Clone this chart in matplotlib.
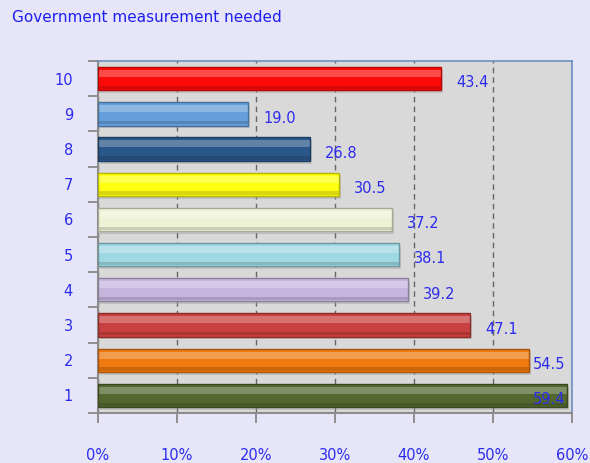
import numpy as np
import matplotlib.pyplot as plt
import matplotlib.colors as mcolors
from matplotlib.ticker import FixedLocator, PercentFormatter

categories = ['1', '2', '3', '4', '5', '6', '7', '8', '9', '10']
values = [59.4, 54.5, 47.1, 39.2, 38.1, 37.2, 30.5, 26.8, 19.0, 43.4]
bar_colours = ['#536830', '#EE7A10', '#C8403F', '#C6B6DE', '#9ED8E2',
               '#EEF3D6', '#FFFF10', '#2A578A', '#649FDC', '#FF0A0A']

TEXT_BLUE = '#2B2BF0'

fig = plt.figure(figsize=(5.9, 4.63), dpi=100, facecolor='#E6E6F8')
ax = fig.add_axes([0.166, 0.108, 0.8035, 0.760])
ax.set_facecolor('#D9D9D9')

y = np.arange(len(categories))
h = 0.66

# soft drop shadow under each bar
ax.barh(y - 0.08, values, height=h, left=0.25, color='#9A9A9A', alpha=0.4,
        linewidth=0, zorder=2)

for yi, v, c in zip(y, values, bar_colours):
    base = np.array(mcolors.to_rgb(c))
    dark = base * 0.7
    light = base + (1 - base) * 0.35
    ax.barh(yi, v, height=h, color=c, zorder=3, linewidth=0)
    # bevel: lighter upper band, darker lower band
    ax.barh(yi + h * 0.22, v, height=h * 0.3, color=light, alpha=0.75,
            linewidth=0, zorder=4)
    ax.barh(yi - h * 0.38, v, height=h * 0.14, color=dark, alpha=0.5,
            linewidth=0, zorder=4)
    ax.barh(yi, v, height=h, color='none', edgecolor=dark, linewidth=1.0, zorder=5)

# value labels to the right of each bar, kept inside the plot area
for yi, v in zip(y, values):
    x = v + 1.9
    ha = 'left'
    if x + 4.5 > 60:
        x, ha = 59.2, 'right'
    ax.text(x, yi - 0.12, f'{v:.1f}', ha=ha, va='center', fontsize=10.5,
            color=TEXT_BLUE, zorder=6)

ax.set_xlim(0, 60)
ax.set_ylim(-0.5, len(categories) - 0.5)
ax.xaxis.set_major_locator(FixedLocator(np.arange(0, 61, 10)))
ax.xaxis.set_major_formatter(PercentFormatter(decimals=0))
ax.set_yticks(y)
ax.set_yticklabels(categories)
ax.yaxis.set_minor_locator(FixedLocator(np.arange(-0.5, len(categories), 1)))

ax.grid(axis='x', color='#666666', linestyle=(0, (4, 3)), linewidth=1.0, zorder=1)
ax.set_axisbelow(True)

ax.tick_params(axis='x', direction='out', length=7, width=1.2, color='#808080',
               pad=18, labelsize=10.5, labelcolor=TEXT_BLUE)
ax.tick_params(axis='y', which='major', length=0, pad=18, labelsize=10.5,
               labelcolor=TEXT_BLUE)
ax.tick_params(axis='y', which='minor', direction='out', length=7, width=1.2,
               color='#808080')

for side in ['left', 'bottom']:
    ax.spines[side].set_color('#8C8C8C')
    ax.spines[side].set_linewidth(1.5)
for side in ['top', 'right']:
    ax.spines[side].set_color('#6E8FC0')
    ax.spines[side].set_linewidth(1.2)

fig.text(12 / 590, 1 - 18 / 463, 'Government measurement needed', ha='left',
         va='center', fontsize=11, color='#1E1EF0')

fig.savefig('out.png', dpi=100, facecolor=fig.get_facecolor())
